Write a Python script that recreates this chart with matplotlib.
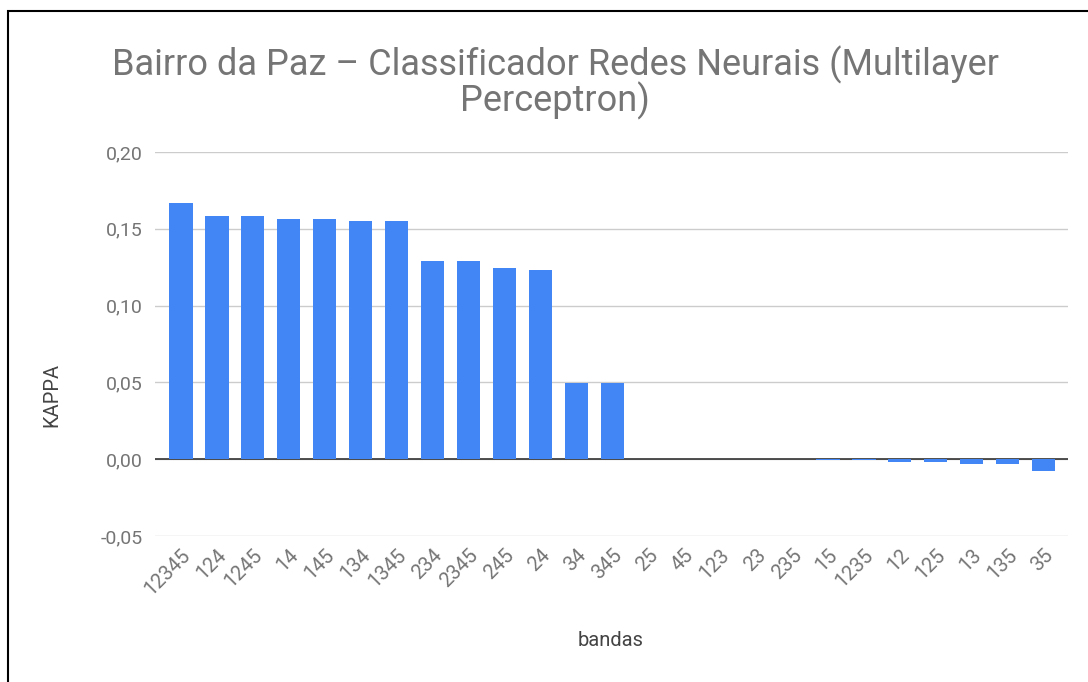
import matplotlib
matplotlib.use("Agg")
import matplotlib.pyplot as plt
from matplotlib.patches import Rectangle

categories = ["12345", "124", "1245", "14", "145", "134", "1345", "234", "2345", "245", "24",
              "34", "345", "25", "45", "123", "23", "235", "15", "1235", "12", "125", "13", "135", "35"]
kappa = [0.1667, 0.1586, 0.1586, 0.1563, 0.1563, 0.155, 0.155, 0.129, 0.129, 0.1243, 0.1232,
         0.0495, 0.0495, 0.0, 0.0, 0.0, 0.0, 0.0, -0.0006, -0.0006, -0.0018, -0.0018, -0.0028, -0.0028, -0.0078]
yticks = [-0.05, 0.0, 0.05, 0.10, 0.15, 0.20]
ytick_labels = ["-0,05", "0,00", "0,05", "0,10", "0,15", "0,20"]

plt.rcParams['font.family'] = ['Roboto', 'DejaVu Sans']
W, H = 1088, 682
fig = plt.figure(figsize=(W / 100, H / 100), dpi=100)
ax = fig.add_axes([155 / W, 1 - 536 / H, (1068 - 155) / W, (536 - 152) / H])

x = list(range(len(categories)))
ax.bar(x, kappa, width=0.65, color="#4285F4", zorder=3)
ax.set_xlim(-0.72, len(categories) - 1 + 0.68)
ax.set_ylim(-0.05, 0.20)
ax.set_yticks(yticks)
ax.set_yticklabels(ytick_labels)
ax.yaxis.grid(True, color="#cccccc", linewidth=1, zorder=0)
ax.axhline(0, color="#333333", linewidth=1.2, zorder=2)
for s in ax.spines.values():
    s.set_visible(False)
ax.tick_params(axis="y", length=0, pad=9, labelsize=14, labelcolor="#757575")
ax.set_xticks(x)
ax.set_xticklabels(categories, rotation=45, ha="right", rotation_mode="anchor")
ax.tick_params(axis="x", length=0, pad=7, labelsize=14.5, labelcolor="#757575")

fig.text(555 / W, 1 - 83 / H, "Bairro da Paz – Classificador Redes Neurais (Multilayer\nPerceptron)",
         ha="center", va="center", fontsize=26, color="#757575", linespacing=0.92)
fig.text(52 / W, 1 - 395 / H, "KAPPA", rotation=90, ha="center", va="center", fontsize=14.5, color="#444444")
fig.text(611 / W, 1 - 641 / H, "bandas", ha="center", va="center", fontsize=14.5, color="#444444")

fig.patches.append(Rectangle((8 / W, -0.1), 2.0, 1 - 11 / H + 0.1, transform=fig.transFigure,
                             fill=False, edgecolor="black", linewidth=1.5))

fig.savefig("out.png", dpi=100)
